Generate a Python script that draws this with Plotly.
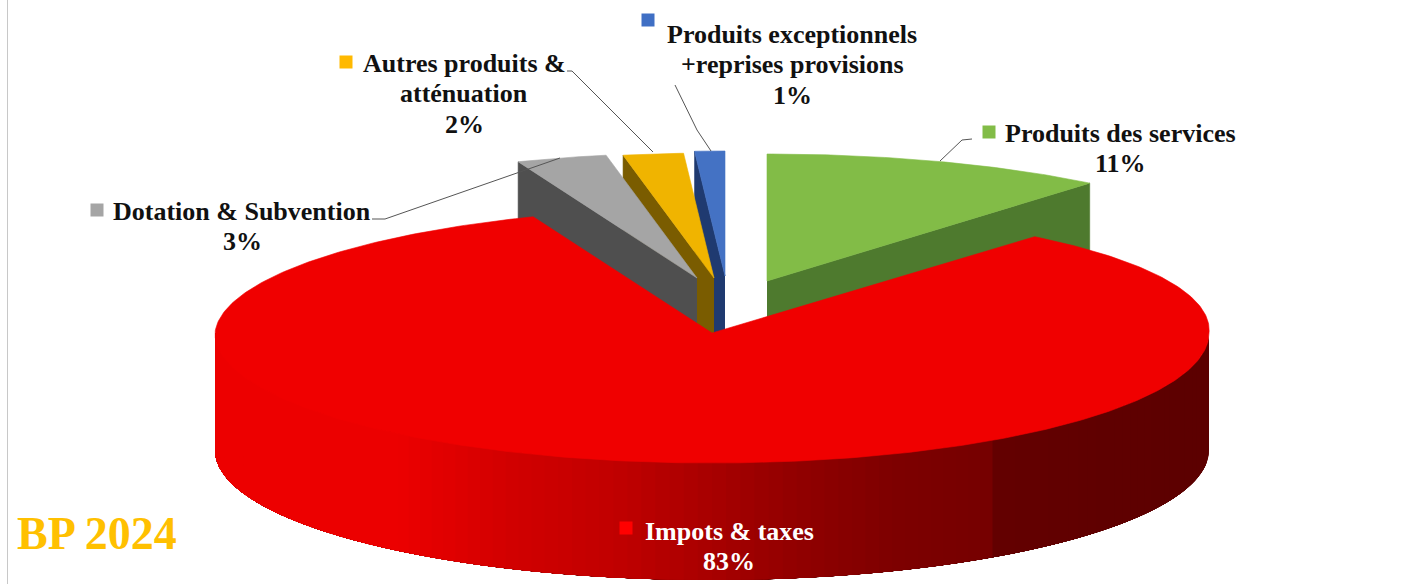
import numpy as np
import plotly.graph_objects as go

# ---- data ----
categories = ["Produits des services", "Impots & taxes", "Dotation & Subvention",
              "Autres produits & atténuation", "Produits exceptionnels +reprises provisions"]
values = [11, 83, 3, 2, 1]
label_lines = [["Produits des services", "11%"],
               ["Impots & taxes", "83%"],
               ["Dotation & Subvention", "3%"],
               ["Autres produits &", "atténuation", "2%"],
               ["Produits exceptionnels", "+reprises provisions", "1%"]]

# ---- styles and geometry ----
top_colors = ["#82BC47", "#F00000", "#A5A5A5", "#F0B400", "#4472C4"]
wall_colors = ["#4E7A2E", "#F00000", "#4F4F4F", "#7A5C00", "#1F3A70"]
key_colors = ["#82BC47", "#FF0000", "#A5A5A5", "#FFB900", "#3F6FC4"]
text_colors = ["#111111", "#FFFFFF", "#111111", "#111111", "#111111"]
label_first = [(1120, 133), (729, 531), (242, 211), (464, 63), (792, 34)]
LINE_STEP = 30.5
key_pos = [(989, 132), (626, 528), (97, 210), (346, 62), (648, 20)]
apex = [(767, 281), (712, 333), (697, 278), (714, 278), (725, 276)]
ry_back = [127, 125, 125, 125, 125]
RX, RY_FRONT, DEPTH = 497, 130, 117
FONT = "Liberation Serif"

# red wall shading: position along x -> red channel
shade_x = [213, 400, 500, 620, 800, 900, 990, 993, 1208]
shade_r = [238, 236, 212, 192, 145, 125, 118, 100, 92]


def arc(a0, a1, cx, cy, ry_b=125, n=None):
    n = n or max(int(abs(a1 - a0)) * 2, 4)
    t = np.radians(np.linspace(a0, a1, n))
    ry = np.where(np.cos(t) >= 0, ry_b, RY_FRONT)
    # slight perspective skew of the far half
    skew = 12 * np.abs(np.sin(t)) * np.maximum(np.cos(t), 0)
    return cx + RX * np.sin(t) + skew, cy - ry * np.cos(t)


def poly(fig, x, y, color, lw=0.6):
    fig.add_trace(go.Scatter(x=list(x), y=list(y), mode="lines", fill="toself",
                             fillcolor=color, line=dict(color=color, width=lw),
                             hoverinfo="skip", showlegend=False))


# angles clockwise from the top, computed from the values
total = sum(values)
edges = np.concatenate([[0], np.cumsum(values) * 360.0 / total])
spans = list(zip(edges[:-1], edges[1:]))

fig = go.Figure()

# painter's order: far small slices first, red slice last
for i in [4, 3, 2, 0]:
    a0, a1 = spans[i]
    cx, cy = apex[i]
    ax, ay = arc(a0, a1, cx, cy, ry_back[i])
    k = -1 if i == 0 else 0   # which cut face shows
    wx = [cx, ax[k], ax[k], cx]
    wy = [cy, ay[k], ay[k] + DEPTH, cy + DEPTH]
    poly(fig, wx, wy, wall_colors[i])
    poly(fig, [cx, *ax, cx], [cy, *ay, cy], top_colors[i])

# red outer wall: overlapping bands painted from right to left, so no seams
cx, cy = apex[1]
wall_starts = np.linspace(90, 270, 111)[:-1]
for a0 in wall_starts:
    ax, ay = arc(a0, 270, cx, cy, ry_back[1], 80)
    a_mid, _ = arc(a0, a0 + 1.6, cx, cy, ry_back[1], 3)
    r = int(np.interp(a_mid.mean(), shade_x, shade_r))
    poly(fig, [*ax, *ax[::-1]], [*ay, *(ay[::-1] + DEPTH)], f"rgb({r},0,0)", lw=0)

# red top
a0, a1 = spans[1]
ax, ay = arc(a0, a1, cx, cy, ry_back[1], 400)
poly(fig, [cx, *ax, cx], [cy, *ay, cy], top_colors[1])

# leader lines
leaders = [
    [(675, 85), (697, 130), (711, 151)],
    [(567, 71), (572, 71), (653, 152)],
    [(372, 219), (385, 219), (560, 158)],
    [(972, 139), (962, 140), (940, 161)],
]
shapes = []
for pts in leaders:
    path = "M " + " L ".join(f"{x} {y}" for x, y in pts)
    shapes.append(dict(type="path", path=path, xref="x", yref="y",
                       line=dict(color="#555555", width=1)))
# legend keys
for (kx, ky), c in zip(key_pos, key_colors):
    shapes.append(dict(type="rect", xref="x", yref="y", x0=kx - 6.5, x1=kx + 6.5,
                       y0=ky - 6.5, y1=ky + 6.5, fillcolor=c, line=dict(width=0)))
# faint page rule at left
shapes.append(dict(type="line", xref="x", yref="y", x0=7.5, x1=7.5, y0=0, y1=584,
                   line=dict(color="#C8C8C8", width=1)))

annotations = []
for lines, (lx, ly), tc in zip(label_lines, label_first, text_colors):
    for j, line in enumerate(lines):
        annotations.append(dict(x=lx, y=ly + j * LINE_STEP, xref="x", yref="y",
                                showarrow=False, text="<b>" + line + "</b>", align="center",
                                font=dict(family=FONT, size=26, color=tc)))
annotations.append(dict(x=15, y=533, xref="x", yref="y", xanchor="left", showarrow=False,
                        text="<b>BP 2024</b>",
                        font=dict(family=FONT, size=46, color="#FFC000")))

fig.update_layout(
    width=1415, height=584, margin=dict(l=0, r=0, t=0, b=0),
    paper_bgcolor="white", plot_bgcolor="white", showlegend=False,
    xaxis=dict(range=[0, 1415], visible=False, fixedrange=True),
    yaxis=dict(range=[584, 0], visible=False, fixedrange=True),
    shapes=shapes, annotations=annotations,
)

fig.write_html("out.html", config={"displayModeBar": False},
               post_script="document.body.style.margin='0';document.body.style.overflow='hidden';")
